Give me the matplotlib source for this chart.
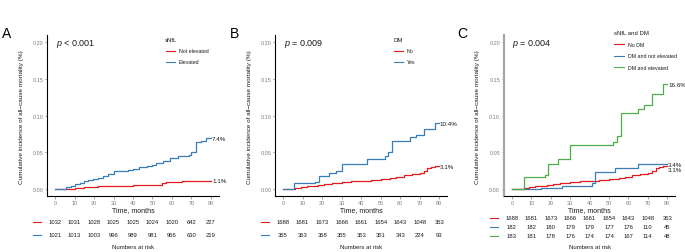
import matplotlib
matplotlib.use("Agg")
import matplotlib.pyplot as plt
from matplotlib.lines import Line2D
from matplotlib.transforms import blended_transform_factory

plt.rcParams['font.family'] = ['Liberation Sans', 'DejaVu Sans']
plt.rcParams['mathtext.fontset'] = 'custom'
plt.rcParams['mathtext.it'] = 'Liberation Sans:italic'
plt.rcParams['mathtext.rm'] = 'Liberation Sans'

RED = '#E41A1C'
BLUE = '#377EB8'
GREEN = '#4DAF4A'

# ---------------- data ----------------
risk_times = [0, 10, 20, 30, 40, 50, 60, 70, 80]

# Panel A: sNfL
A_red_t = [0, 6, 10, 15, 22, 29, 40, 55, 57, 65, 80]
A_red_y = [0, 0.0005, 0.0009, 0.0023, 0.0036, 0.0045, 0.0059, 0.0082, 0.0091, 0.011, 0.011]
A_blue_t = [0, 5.7, 8, 10, 13, 14.8, 17, 19.4, 22, 24.6, 27, 30, 37.5, 40, 43, 47, 50, 52,
            55.6, 59, 63, 68.5, 69.7, 72.3, 75, 77.4, 80]
A_blue_y = [0, 0.0023, 0.004, 0.0064, 0.008, 0.0105, 0.012, 0.0136, 0.015, 0.018, 0.020, 0.024,
            0.026, 0.027, 0.0295, 0.032, 0.033, 0.035, 0.0386, 0.042, 0.0445, 0.047, 0.051,
            0.064, 0.066, 0.069, 0.069]
A_end_labels = ['7.4%', '1.1%']
A_risk_red = ['1032', '1031', '1028', '1025', '1025', '1024', '1020', '642', '227']
A_risk_blue = ['1021', '1013', '1003', '996', '989', '981', '966', '630', '219']

# Panel B: DM
B_red_t = [0, 3, 6, 9, 12, 15, 18, 21, 25, 30, 35, 40, 45, 50, 55, 58, 62, 66, 70, 72, 74, 76, 78, 80]
B_red_y = [0, 0.0005, 0.0015, 0.0025, 0.0035, 0.0045, 0.0055, 0.0065, 0.0075, 0.0095, 0.0105,
           0.0115, 0.0125, 0.014, 0.0155, 0.017, 0.019, 0.0205, 0.022, 0.025, 0.028, 0.0295,
           0.031, 0.031]
B_blue_t = [0, 5.7, 16.5, 18.6, 23.7, 27, 30, 43, 52, 54, 56, 65, 68, 72.4, 77.6, 80]
B_blue_y = [0, 0.0077, 0.010, 0.018, 0.022, 0.025, 0.0336, 0.041, 0.0445, 0.050, 0.065,
            0.0705, 0.0736, 0.082, 0.0895, 0.0895]
B_end_labels = ['10.4%', '3.1%']
B_risk_red = ['1688', '1681', '1673', '1666', '1661', '1654', '1643', '1048', '353']
B_risk_blue = ['365', '363', '358', '355', '353', '351', '343', '224', '93']

# Panel C: sNfL and DM
C_red_t = B_red_t
C_red_y = B_red_y
C_blue_t = [0, 15, 25.7, 41, 43, 53, 65, 80]
C_blue_y = [0, 0.002, 0.0045, 0.008, 0.0227, 0.028, 0.034, 0.034]
C_green_t = [0, 6, 16.8, 18.5, 23.6, 30, 52, 54, 56, 65, 68, 72.4, 77.6, 80]
C_green_y = [0, 0.016, 0.019, 0.034, 0.041, 0.060, 0.0645, 0.072, 0.103, 0.109, 0.114,
             0.130, 0.143, 0.143]
C_end_labels = ['16.6%', '3.4%', '3.1%']
C_risk_red = ['1688', '1681', '1673', '1666', '1661', '1654', '1643', '1048', '353']
C_risk_blue = ['182', '182', '180', '179', '179', '177', '176', '110', '45']
C_risk_green = ['183', '181', '178', '176', '174', '174', '167', '114', '48']

# ---------------- layout helpers ----------------
W, H = 685, 253
fig = plt.figure(figsize=(W / 100, H / 100), dpi=100)


def fx(px):
    return px / W


def fy(py):
    return 1 - py / H


TICK_C = '#7F7F7F'
TXT_C = '#1A1A1A'


def make_axes(left, right, spine_color='black', spine_lw=0.8):
    ax = fig.add_axes([fx(left), fy(197.3), fx(right) - fx(left), fy(36) - fy(197.3)])
    ax.set_xlim(-4, 84)
    ax.set_ylim(-0.01, 0.21)
    for s in ['top', 'right']:
        ax.spines[s].set_visible(False)
    ax.spines['bottom'].set_linewidth(0.8)
    ax.spines['left'].set_linewidth(spine_lw)
    ax.spines['left'].set_color(spine_color)
    ax.set_xticks(risk_times)
    ax.set_xticklabels([str(t) for t in risk_times])
    ax.set_yticks([0, 0.05, 0.10, 0.15, 0.20])
    ax.set_yticklabels(['0.00', '0.05', '0.10', '0.15', '0.20'])
    ax.tick_params(axis='both', labelsize=4, colors=TICK_C, length=1.8, width=0.5, pad=1.2)
    ax.set_facecolor('none')
    return ax


def ylabel(ax, x):
    fig.text(fx(x), (fy(36) + fy(197.3)) / 2, 'Cumulative incidence of all\u2212cause mortality (%)',
             rotation=90, ha='center', va='center', fontsize=4.6, color=TXT_C)


def legend(title, entries, x_title, y_title, x_line0, x_line1, x_text, ys):
    fig.text(fx(x_title), fy(y_title), title, fontsize=4.3, color=TXT_C, ha='left', va='center')
    for (lab, col), yy in zip(entries, ys):
        fig.add_artist(Line2D([fx(x_line0), fx(x_line1)], [fy(yy), fy(yy)], color=col, lw=0.8))
        fig.text(fx(x_text), fy(yy), lab, fontsize=3.8, color=TXT_C, ha='left', va='center')


def risk_table(ax, rows, cols, ys, x_line0, x_line1, y_title=248):
    tr = blended_transform_factory(ax.transData, fig.transFigure)
    for row, col, yy in zip(rows, cols, ys):
        fig.add_artist(Line2D([fx(x_line0), fx(x_line1)], [fy(yy), fy(yy)], color=col, lw=0.8))
        for t, v in zip(risk_times, row):
            fig.text(t, fy(yy), v, transform=tr, fontsize=4.2, color=TXT_C, ha='center', va='center')
    fig.text(40, fy(211), 'Time, months', transform=tr, fontsize=5, color=TXT_C, ha='center', va='center')
    fig.text(40, fy(y_title), 'Numbers at risk', transform=tr, fontsize=4.3, color=TXT_C,
             ha='center', va='center')


# ---------------- Panel A ----------------
axA = make_axes(47.3, 218.7)
axA.step(A_red_t, A_red_y, where='post', color=RED, lw=0.9)
axA.step(A_blue_t, A_blue_y, where='post', color=BLUE, lw=0.9)
axA.text(80.6, A_blue_y[-1], A_end_labels[0], fontsize=4.5, color=TXT_C, va='center', ha='left')
axA.text(80.6, A_red_y[-1], A_end_labels[1], fontsize=4.5, color=TXT_C, va='center', ha='left')
fig.text(fx(55.5), fy(43.5), r'$p$ < 0.001', fontsize=6.5, color=TXT_C, ha='left', va='center')
fig.text(fx(1.5), fy(33.5), 'A', fontsize=10, color='black', ha='left', va='center')
ylabel(axA, 22)
legend('sNfL', [('Not elevated', RED), ('Elevated', BLUE)], 165, 40.5, 165.7, 175, 179, [51.5, 62.5])
risk_table(axA, [A_risk_red, A_risk_blue], [RED, BLUE], [223, 235.5], 33, 41)

# ---------------- Panel B ----------------
axB = make_axes(275.3, 447)
axB.step(B_red_t, B_red_y, where='post', color=RED, lw=0.9)
axB.step(B_blue_t, B_blue_y, where='post', color=BLUE, lw=0.9)
axB.text(80.3, B_blue_y[-1], B_end_labels[0], fontsize=4.5, color=TXT_C, va='center', ha='left')
axB.text(80.3, B_red_y[-1], B_end_labels[1], fontsize=4.5, color=TXT_C, va='center', ha='left')
fig.text(fx(283.5), fy(43.5), r'$p$ = 0.009', fontsize=6.5, color=TXT_C, ha='left', va='center')
fig.text(fx(229.5), fy(33.5), 'B', fontsize=10, color='black', ha='left', va='center')
ylabel(axB, 250)
legend('DM', [('No', RED), ('Yes', BLUE)], 393, 40.5, 393.7, 403, 407, [51.5, 62.5])
risk_table(axB, [B_risk_red, B_risk_blue], [RED, BLUE], [223, 235.5], 260.7, 268.7)

# ---------------- Panel C ----------------
axC = make_axes(504.2, 675, spine_color='#A6A6A6', spine_lw=1.6)
axC.step(C_red_t, C_red_y, where='post', color=RED, lw=0.9)
axC.step(C_blue_t, C_blue_y, where='post', color=BLUE, lw=0.9)
axC.step(C_green_t, C_green_y, where='post', color=GREEN, lw=0.9)
axC.text(80.5, C_green_y[-1], C_end_labels[0], fontsize=4.5, color=TXT_C, va='center', ha='left')
axC.text(80.5, C_blue_y[-1], C_end_labels[1], fontsize=4.5, color=TXT_C, va='center', ha='left')
axC.text(80.5, C_red_y[-1] - 0.004, C_end_labels[2], fontsize=4.5, color=TXT_C, va='center', ha='left')
fig.text(fx(512.5), fy(43.5), r'$p$ = 0.004', fontsize=6.5, color=TXT_C, ha='left', va='center')
fig.text(fx(457.5), fy(33.5), 'C', fontsize=10, color='black', ha='left', va='center')
ylabel(axC, 477)
legend('sNfL and DM', [('No DM', RED), ('DM and not elevated', BLUE), ('DM and elevated', GREEN)],
       614, 33.5, 614.3, 624, 628, [45.3, 56.7, 68])
risk_table(axC, [C_risk_red, C_risk_blue, C_risk_green], [RED, BLUE, GREEN], [219, 228, 237],
           490, 497.7)

fig.savefig('out.png', dpi=100)
